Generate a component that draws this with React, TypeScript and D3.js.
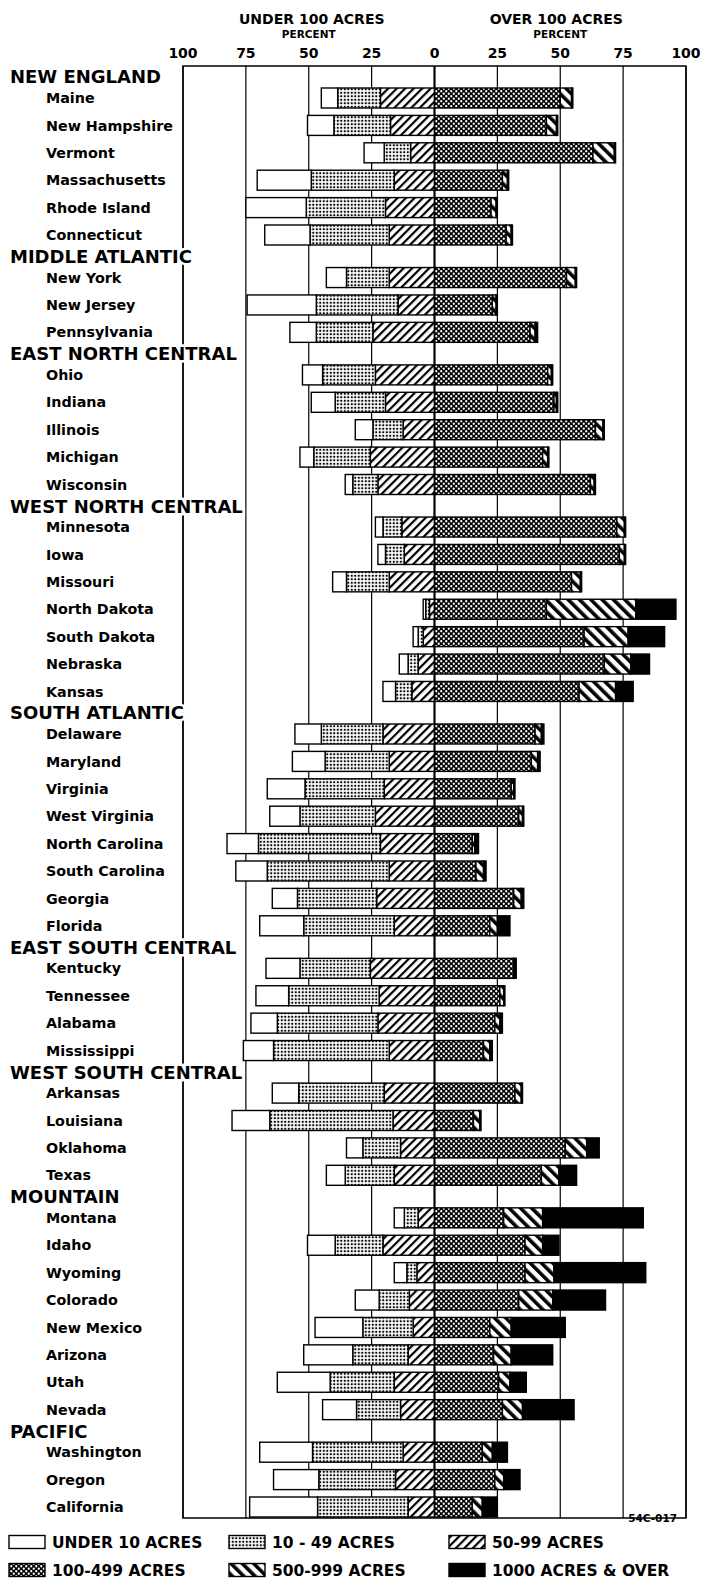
import * as d3 from "d3";

const regions = [
  "NEW ENGLAND",
  "MIDDLE ATLANTIC",
  "EAST NORTH CENTRAL",
  "WEST NORTH CENTRAL",
  "SOUTH ATLANTIC",
  "EAST SOUTH CENTRAL",
  "WEST SOUTH CENTRAL",
  "MOUNTAIN",
  "PACIFIC",
];
const regionSizes = [6, 3, 5, 7, 8, 4, 4, 8, 3];

const states = [
  "Maine", "New Hampshire", "Vermont", "Massachusetts", "Rhode Island", "Connecticut",
  "New York", "New Jersey", "Pennsylvania",
  "Ohio", "Indiana", "Illinois", "Michigan", "Wisconsin",
  "Minnesota", "Iowa", "Missouri", "North Dakota", "South Dakota", "Nebraska", "Kansas",
  "Delaware", "Maryland", "Virginia", "West Virginia", "North Carolina", "South Carolina", "Georgia", "Florida",
  "Kentucky", "Tennessee", "Alabama", "Mississippi",
  "Arkansas", "Louisiana", "Oklahoma", "Texas",
  "Montana", "Idaho", "Wyoming", "Colorado", "New Mexico", "Arizona", "Utah", "Nevada",
  "Washington", "Oregon", "California",
];

// percent of farms, by size class
const under10 = [
  6.5, 10.5, 8, 21.5, 24, 18,
  8, 27.5, 10.5,
  8, 9.5, 7, 5.5, 3,
  3, 3, 5.5, 1, 2, 3.5, 5,
  10.5, 13, 15, 12, 12.5, 12.5, 10, 17.5,
  13.5, 13, 10.5, 12,
  10.5, 15, 6.5, 7.5,
  4, 11, 5, 9.5, 19, 19.5, 21, 13.5,
  21, 18, 27,
];
const acres10to49 = [
  17, 22.5, 10.5, 33, 31.5, 31.5,
  17, 32.5, 22.5,
  21, 20, 12, 22.5, 10,
  7.5, 7.5, 17, 1.5, 2, 4, 6.5,
  24.5, 25.5, 31.5, 30, 48.5, 48.5, 31.5, 36,
  28, 36, 40, 46,
  34, 49, 15, 19.5,
  5.5, 19, 4, 12, 20, 22, 25.5, 17.5,
  36, 30.5, 36,
];
const acres50to99 = [
  21.5, 17.5, 9.5, 16, 19.5, 18,
  18, 14.5, 24.5,
  23.5, 19.5, 12.5, 25.5, 22.5,
  13, 12, 18, 2, 4.5, 6.5, 9,
  20.5, 18, 20, 23.5, 21.5, 18, 23, 16,
  25.5, 22, 22.5, 18,
  20, 16.5, 13.5, 16,
  6.5, 20.5, 7, 10, 8.5, 10.5, 16, 13.5,
  12.5, 15.5, 10.5,
];
const acres100to499 = [
  50, 44.5, 63, 27, 22.5, 28.5,
  52.5, 23, 38,
  45, 47.5, 64, 43, 62,
  72.5, 73.5, 54.5, 44.5, 59.5, 67.5, 57.5,
  40, 38.5, 30.5, 33.5, 15, 16.5, 31.5, 22,
  31.5, 26, 24, 19.5,
  32, 15.5, 52, 42.5,
  27.5, 36, 36, 33.5, 22, 23.5, 25.5, 27,
  19, 24, 15,
];
const acres500to999 = [
  4.5, 4, 8.5, 2, 2, 2,
  3.5, 1.5, 2,
  1.5, 1, 3, 2, 1.5,
  3, 2, 3.5, 35.5, 17.5, 10.5, 14.5,
  2.5, 2.5, 1, 1.5, 1, 3, 3, 3,
  0.5, 1.5, 2, 2.5,
  2.5, 2.5, 8.5, 7,
  15.5, 7, 11.5, 13.5, 8.5, 7, 4.5, 8,
  4, 3.5, 4,
];
const acres1000plus = [
  0.5, 0.5, 0.5, 0.5, 0.5, 0.5,
  0.5, 0.5, 1,
  0.5, 0.5, 0.5, 0.5, 0.5,
  0.5, 0.5, 0.5, 16, 14.5, 7.5, 7,
  1, 1, 0.5, 0.5, 1.5, 1, 1, 5,
  0.5, 0.5, 1, 1,
  0.5, 0.5, 5, 7,
  40, 6.5, 36.5, 21, 21.5, 16.5, 6.5, 20.5,
  6, 6.5, 6,
];

const ticks = [-100, -75, -50, -25, 0, 25, 50, 75, 100];

const keys = ["a50", "a10", "u10", "a100", "a500", "a1000"];
const fills: Record<string, string> = {
  u10: "#fff",
  a10: "url(#p-dots)",
  a50: "url(#p-hatch)",
  a100: "url(#p-cross)",
  a500: "url(#p-rev)",
  a1000: "#000",
};
const legend = [
  { key: "u10", label: "UNDER 10 ACRES" },
  { key: "a10", label: "10 - 49 ACRES" },
  { key: "a50", label: "50-99 ACRES" },
  { key: "a100", label: "100-499 ACRES" },
  { key: "a500", label: "500-999 ACRES" },
  { key: "a1000", label: "1000 ACRES & OVER" },
];

const W = 702;
const H = 1583;
const FONT = "'DejaVu Sans', Verdana, sans-serif";
const GAP = 0.553; // extra space for a region heading, in rows
const barH = 20;

export default function App() {
  const rows = states.map((s, i) => ({
    state: s,
    u10: -under10[i],
    a10: -acres10to49[i],
    a50: -acres50to99[i],
    a100: acres100to499[i],
    a500: acres500to999[i],
    a1000: acres1000plus[i],
  }));

  // which region each state belongs to
  const regionOf: number[] = [];
  const firstOf: number[] = [];
  regionSizes.forEach((n, r) => {
    firstOf.push(regionOf.length);
    for (let k = 0; k < n; k++) regionOf.push(r);
  });
  const slot = (i: number) => i + regionOf[i] * GAP;

  const x = d3.scaleLinear().domain([-100, 100]).range([183, 686]);
  const y = d3
    .scaleLinear()
    .domain([0, slot(states.length - 1)])
    .range([98, 1507]);

  const series = d3
    .stack<any>()
    .keys(keys)
    .offset(d3.stackOffsetDiverging)(rows);

  const top = 66;
  const bottom = 1518;

  return (
    <svg
      width={W}
      height={H}
      style={{ position: "absolute", left: 0, top: 0, background: "#fff" }}
      fontFamily={FONT}
    >
      <defs>
        <pattern id="p-dots" width="3.5" height="3.5" patternUnits="userSpaceOnUse">
          <rect width="3.5" height="3.5" fill="#fff" />
          <circle cx="1.75" cy="1.75" r="1.15" fill="#000" />
        </pattern>
        <pattern id="p-hatch" width="6" height="6" patternUnits="userSpaceOnUse" patternTransform="rotate(45)">
          <rect width="6" height="6" fill="#fff" />
          <rect width="2.2" height="6" fill="#000" />
        </pattern>
        <pattern id="p-rev" width="8" height="8" patternUnits="userSpaceOnUse" patternTransform="rotate(-45)">
          <rect width="8" height="8" fill="#fff" />
          <rect width="3.6" height="8" fill="#000" />
        </pattern>
        <pattern id="p-cross" width="5" height="5" patternUnits="userSpaceOnUse">
          <rect width="5" height="5" fill="#000" />
          <circle cx="1.25" cy="1.25" r="1.15" fill="#fff" />
          <circle cx="3.75" cy="3.75" r="1.15" fill="#fff" />
        </pattern>
      </defs>

      {/* titles */}
      <g fontWeight="bold" textAnchor="middle">
        <text x={x(-50) + 3} y={19} dy="0.35em" fontSize={14}>UNDER 100 ACRES</text>
        <text x={x(-50)} y={34} dy="0.35em" fontSize={10.5}>PERCENT</text>
        <text x={x(50) - 4} y={19} dy="0.35em" fontSize={14}>OVER 100 ACRES</text>
        <text x={x(50)} y={34} dy="0.35em" fontSize={10.5}>PERCENT</text>
        {ticks.map((t) => (
          <text key={t} x={x(t)} y={53} dy="0.35em" fontSize={14}>
            {Math.abs(t)}
          </text>
        ))}
      </g>

      {/* grid */}
      {ticks.map((t) => (
        <line
          key={t}
          x1={x(t)}
          x2={x(t)}
          y1={top}
          y2={bottom}
          stroke="#000"
          strokeWidth={t === 0 ? 2.2 : 1.2}
        />
      ))}
      <rect x={x(-100)} y={top} width={x(100) - x(-100)} height={bottom - top} fill="none" stroke="#000" strokeWidth={1.5} />

      {/* bars */}
      {series.map((s) => (
        <g key={s.key}>
          {s.map((d, i) => (
            <rect
              key={i}
              x={x(Math.min(d[0], d[1]))}
              y={y(slot(i)) - barH / 2}
              width={Math.abs(x(d[1]) - x(d[0]))}
              height={barH}
              fill={fills[s.key]}
              stroke="#000"
              strokeWidth={1.4}
            />
          ))}
        </g>
      ))}

      {/* labels */}
      <g fontWeight="bold">
        {regions.map((r, k) => (
          <text
            key={r}
            x={10}
            y={y(slot(firstOf[k])) - 21}
            dy="0.36em"
            fontSize={18}
            stroke="#fff"
            strokeWidth={5}
            style={{ paintOrder: "stroke" }}
          >
            {r}
          </text>
        ))}
        {states.map((s, i) => (
          <text key={s} x={46} y={y(slot(i))} dy="0.36em" fontSize={14.3}>
            {s}
          </text>
        ))}
      </g>

      {/* legend */}
      <text x={677} y={1522} textAnchor="end" fontSize={10.5} fontWeight="bold">54C-017</text>
      {legend.map((l, k) => {
        const col = k % 3;
        const row = Math.floor(k / 3);
        const sx = [9, 229, 449][col];
        const cy = 1542 + row * 28;
        return (
          <g key={l.key}>
            <rect x={sx} y={cy - 6.5} width={36} height={13} fill={fills[l.key]} stroke="#000" strokeWidth={1.4} />
            <text x={sx + 43} y={cy} dy="0.36em" fontSize={15.5} fontWeight="bold">
              {l.label}
            </text>
          </g>
        );
      })}
    </svg>
  );
}
